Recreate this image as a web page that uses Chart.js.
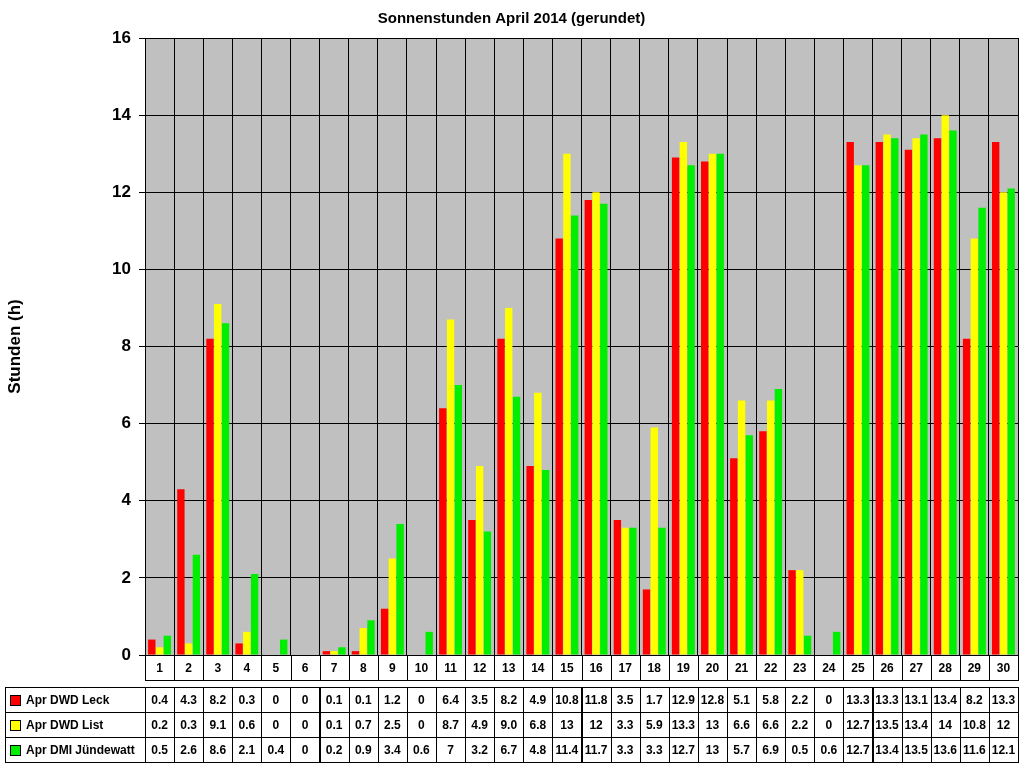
<!DOCTYPE html>
<html><head><meta charset="utf-8">
<script src="https://cdn.jsdelivr.net/npm/chart.js@4"></script>
<style>html,body{margin:0;padding:0;background:#fff}</style>
</head><body><canvas id="c" width="1024" height="768"></canvas>
<script>
const days = ["1","2","3","4","5","6","7","8","9","10","11","12","13","14","15","16","17","18","19","20","21","22","23","24","25","26","27","28","29","30"];
const seriesNames = ["Apr DWD Leck","Apr DWD List","Apr DMI Jündewatt"];
const leckLabels = ["0.4","4.3","8.2","0.3","0","0","0.1","0.1","1.2","0","6.4","3.5","8.2","4.9","10.8","11.8","3.5","1.7","12.9","12.8","5.1","5.8","2.2","0","13.3","13.3","13.1","13.4","8.2","13.3"];
const listLabels = ["0.2","0.3","9.1","0.6","0","0","0.1","0.7","2.5","0","8.7","4.9","9.0","6.8","13","12","3.3","5.9","13.3","13","6.6","6.6","2.2","0","12.7","13.5","13.4","14","10.8","12"];
const dmiLabels = ["0.5","2.6","8.6","2.1","0.4","0","0.2","0.9","3.4","0.6","7","3.2","6.7","4.8","11.4","11.7","3.3","3.3","12.7","13","5.7","6.9","0.5","0.6","12.7","13.4","13.5","13.6","11.6","12.1"];
const leck = leckLabels.map(Number), list = listLabels.map(Number), dmi = dmiLabels.map(Number);
const colors = ["#ff0000","#ffff00","#00ee00"];
const tableRows = [leckLabels, listLabels, dmiLabels];

const bgPlugin = {id:'bg', beforeDraw(ch){const a=ch.chartArea,c=ch.ctx;c.save();c.fillStyle='#c0c0c0';c.fillRect(a.left,a.top,a.right-a.left,a.bottom-a.top);c.restore();}};
const tablePlugin = {id:'tbl', afterDraw(ch){
  const c=ch.ctx,x=ch.scales.x,a=ch.chartArea; const rowH=25, top=a.bottom+25+7;
  c.save(); c.strokeStyle='#000'; c.lineWidth=1;
  const cw=(a.right-a.left)/days.length;
  c.strokeRect(a.left+0.5,a.bottom+0.5,a.right-a.left,25);
  for(let r=0;r<3;r++){
    const y=top+r*rowH;
    c.strokeRect(5.5,y+0.5,a.left-5,rowH);
    c.fillStyle=colors[r]; c.fillRect(10,y+8,10,10); c.strokeRect(10.5,y+8.5,10,10);
    c.fillStyle='#000'; c.font='bold 12px Arial, "Liberation Sans"'; c.textAlign='left'; c.textBaseline='middle';
    c.fillText(seriesNames[r],26,y+rowH/2+1);
    c.textAlign='center';
    for(let i=0;i<days.length;i++){
      const cx=x.getPixelForValue(i);
      c.strokeRect(Math.round(cx-cw/2)+0.5,y+0.5,Math.round(cw),rowH);
      c.fillText(tableRows[r][i],cx,y+rowH/2+1);
    }
  }
  for(let i=0;i<=days.length;i++){const px=Math.round(a.left+i*cw)+0.5;c.beginPath();c.moveTo(px,a.bottom);c.lineTo(px,a.bottom+25);c.stroke();}
  c.restore();
}};
new Chart(document.getElementById('c'),{
  type:'bar',
  data:{labels:days,datasets:[
    {label:seriesNames[0],data:leck,backgroundColor:colors[0]},
    {label:seriesNames[1],data:list,backgroundColor:colors[1]},
    {label:seriesNames[2],data:dmi,backgroundColor:colors[2]}]},
  options:{responsive:false,animation:false,devicePixelRatio:1,
    layout:{padding:{left:5,right:6,top:0,bottom:88}},
    datasets:{bar:{barPercentage:0.95,categoryPercentage:0.8}},
    plugins:{legend:{display:false},tooltip:{enabled:false},
      title:{display:true,text:'Sonnenstunden April 2014 (gerundet)',color:'#000',font:{family:'Arial, "Liberation Sans"',size:15,weight:'bold'},padding:{top:10,bottom:10}}},
    scales:{
      x:{afterFit(s){s.height=25;},grid:{color:'#000',offset:true,drawTicks:false},border:{color:'#000'},
         ticks:{color:'#000',font:{family:'Arial, "Liberation Sans"',size:12,weight:'bold'},padding:6,autoSkip:false,maxRotation:0}},
      y:{min:0,max:16,afterFit(s){s.width=140;},
         ticks:{stepSize:2,color:'#000',font:{family:'Arial, "Liberation Sans"',size:17,weight:'bold'},padding:8},
         grid:{color:'#000',drawTicks:true,tickLength:6},border:{color:'#000'},
         title:{display:true,text:'Stunden (h)',color:'#000',font:{family:'Arial, "Liberation Sans"',size:17,weight:'bold'},padding:{top:0,bottom:60}}}
    }},
  plugins:[bgPlugin,tablePlugin]
});
</script></body></html>
